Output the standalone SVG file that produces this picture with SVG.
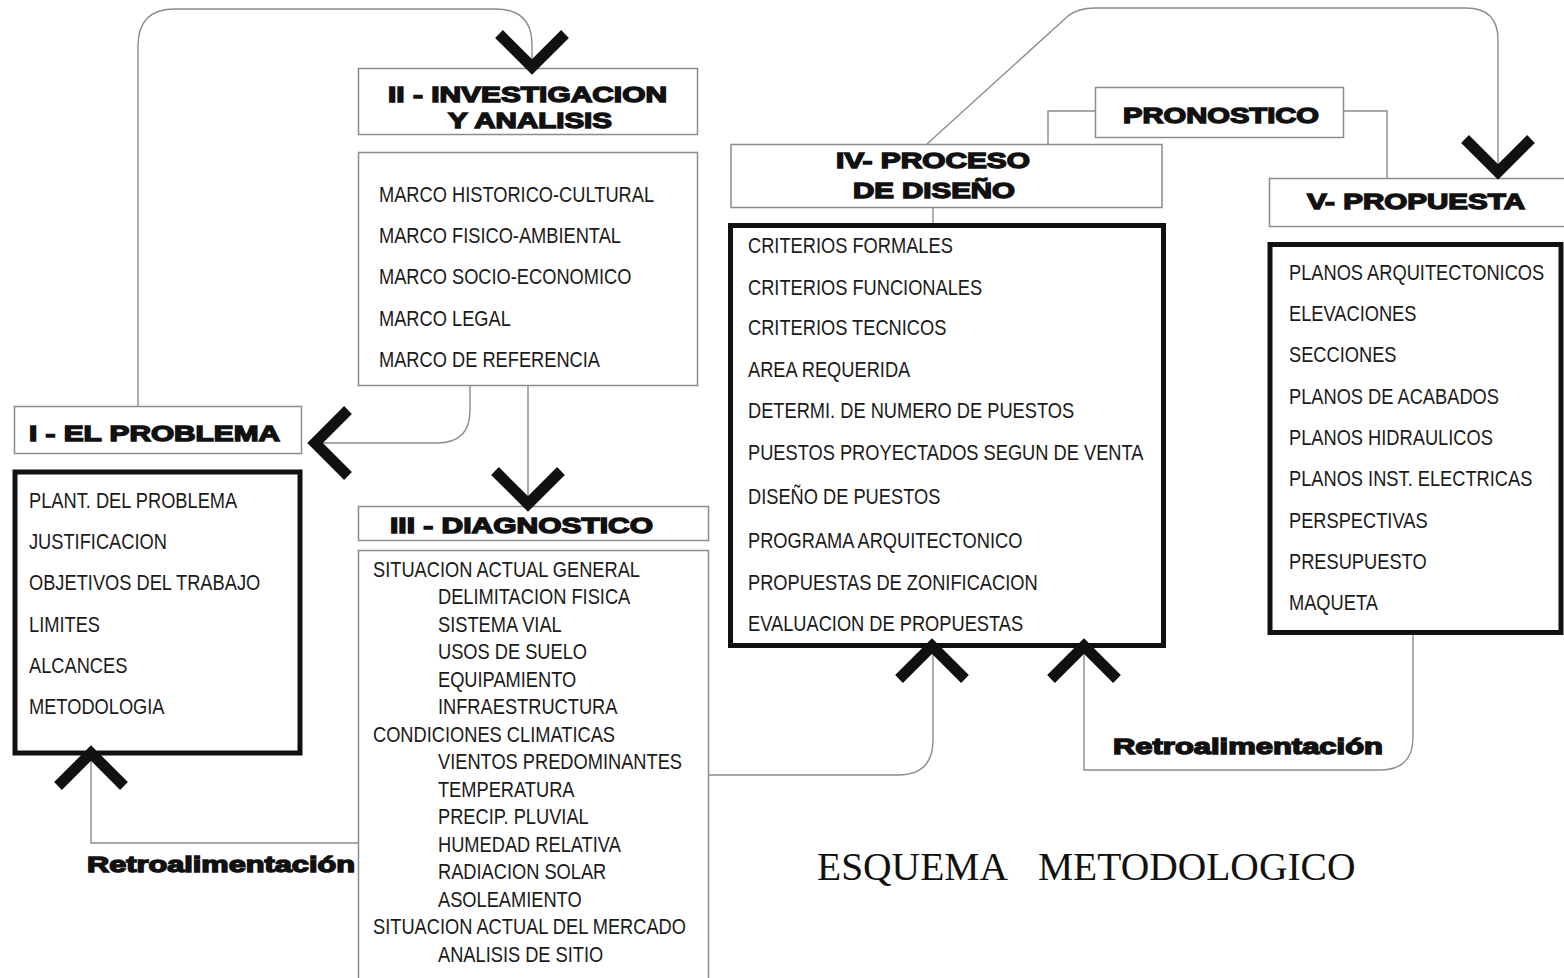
<svg xmlns="http://www.w3.org/2000/svg" width="1564" height="978" viewBox="0 0 1564 978">
<style>
.bg{fill:#fff}
.box{fill:#fff;stroke:#8c8c8c;stroke-width:1.5}
.thick{fill:#fff;stroke:#111;stroke-width:5}
.line{fill:none;stroke:#8c8c8c;stroke-width:1.4}
.chev{fill:none;stroke:#111;stroke-width:11;stroke-linejoin:miter;stroke-miterlimit:10}
.hd{font-family:"Liberation Sans",Arial,sans-serif;font-weight:bold;font-size:22px;fill:#111;stroke:#111;stroke-width:1.4}
.it{font-family:"Liberation Sans",Arial,sans-serif;font-size:22px;fill:#1a1a1a}
.ttl{font-family:"Liberation Serif","Times New Roman",serif;font-size:39.5px;fill:#111}
</style>
<defs>
<path id="chv" class="chev" d="M-33,-33 L0,0 L33,-33"/>
</defs>
<rect class="bg" x="0" y="0" width="1564" height="978"/>

<g id="connectors">
<path class="line" d="M138,406 V46 Q138,9 175,9 H496 Q532,9 532,45 V70"/>
<path class="line" d="M470,385 V410 Q470,443 437,443 H312"/>
<path class="line" d="M528,385 V505"/>
<path class="line" d="M91,752 V843 H358"/>
<path class="line" d="M708,775 H898 Q933,775 933,740 V645"/>
<path class="line" d="M1413,633 V737 Q1413,770 1380,770 H1084 V645"/>
<path class="line" d="M927,144 L1068,16 Q1078,8 1095,8 H1466 Q1498,8 1498,40 V172"/>
<path class="line" d="M933,208 V226"/>
<path class="line" d="M1095,111 H1048 V144"/>
<path class="line" d="M1343,111 H1387 V178"/>
</g>

<g id="node-II">
<rect class="box" x="358.5" y="68.5" width="339" height="66"/>
<text class="hd" x="388" y="102" textLength="279" lengthAdjust="spacingAndGlyphs">II - INVESTIGACION</text>
<text class="hd" x="448" y="128" textLength="164" lengthAdjust="spacingAndGlyphs">Y ANALISIS</text>
</g>
<g id="node-II-content">
<rect class="box" x="358.5" y="152.5" width="339" height="233"/>
<g transform="translate(379,0) scale(0.83,1)">
<text class="it" x="0" y="202">MARCO HISTORICO-CULTURAL</text>
<text class="it" x="0" y="243">MARCO FISICO-AMBIENTAL</text>
<text class="it" x="0" y="284">MARCO SOCIO-ECONOMICO</text>
<text class="it" x="0" y="326">MARCO LEGAL</text>
<text class="it" x="0" y="367">MARCO DE REFERENCIA</text>
</g>
</g>

<g id="node-I">
<rect class="box" x="14.5" y="406.5" width="287" height="47"/>
<text class="hd" x="29" y="441" textLength="251" lengthAdjust="spacingAndGlyphs">I - EL PROBLEMA</text>
</g>
<g id="node-I-content">
<rect class="thick" x="15" y="472" width="285" height="281"/>
<g transform="translate(29,0) scale(0.83,1)">
<text class="it" x="0" y="508">PLANT. DEL PROBLEMA</text>
<text class="it" x="0" y="549">JUSTIFICACION</text>
<text class="it" x="0" y="590">OBJETIVOS DEL TRABAJO</text>
<text class="it" x="0" y="632">LIMITES</text>
<text class="it" x="0" y="673">ALCANCES</text>
<text class="it" x="0" y="714">METODOLOGIA</text>
</g>
</g>

<g id="node-III">
<rect class="box" x="358.5" y="506.5" width="350" height="34"/>
<text class="hd" x="390" y="533" textLength="263" lengthAdjust="spacingAndGlyphs">III - DIAGNOSTICO</text>
</g>
<g id="node-III-content">
<rect class="box" x="358.5" y="550.5" width="350" height="440"/>
<g transform="translate(373,0) scale(0.83,1)">
<text class="it" x="0" y="577">SITUACION ACTUAL GENERAL</text>
<text class="it" x="78.3" y="604.5">DELIMITACION FISICA</text>
<text class="it" x="78.3" y="632">SISTEMA VIAL</text>
<text class="it" x="78.3" y="659.5">USOS DE SUELO</text>
<text class="it" x="78.3" y="687">EQUIPAMIENTO</text>
<text class="it" x="78.3" y="714.5">INFRAESTRUCTURA</text>
<text class="it" x="0" y="742">CONDICIONES CLIMATICAS</text>
<text class="it" x="78.3" y="769.5">VIENTOS PREDOMINANTES</text>
<text class="it" x="78.3" y="797">TEMPERATURA</text>
<text class="it" x="78.3" y="824.5">PRECIP. PLUVIAL</text>
<text class="it" x="78.3" y="852">HUMEDAD RELATIVA</text>
<text class="it" x="78.3" y="879.5">RADIACION SOLAR</text>
<text class="it" x="78.3" y="907">ASOLEAMIENTO</text>
<text class="it" x="0" y="934.5">SITUACION ACTUAL DEL MERCADO</text>
<text class="it" x="78.3" y="962">ANALISIS DE SITIO</text>
</g>
</g>

<g id="node-IV">
<rect class="box" x="731" y="144.5" width="431" height="63"/>
<text class="hd" x="836" y="168" textLength="194" lengthAdjust="spacingAndGlyphs">IV- PROCESO</text>
<text class="hd" x="853" y="198" textLength="162" lengthAdjust="spacingAndGlyphs">DE DISEÑO</text>
</g>
<g id="node-IV-content">
<rect class="thick" x="730.5" y="225.5" width="433" height="420"/>
<g transform="translate(748,0) scale(0.83,1)">
<text class="it" x="0" y="253">CRITERIOS FORMALES</text>
<text class="it" x="0" y="295">CRITERIOS FUNCIONALES</text>
<text class="it" x="0" y="335">CRITERIOS TECNICOS</text>
<text class="it" x="0" y="377">AREA REQUERIDA</text>
<text class="it" x="0" y="418">DETERMI. DE NUMERO DE PUESTOS</text>
<text class="it" x="0" y="460">PUESTOS PROYECTADOS SEGUN DE VENTA</text>
<text class="it" x="0" y="504">DISEÑO DE PUESTOS</text>
<text class="it" x="0" y="548">PROGRAMA ARQUITECTONICO</text>
<text class="it" x="0" y="590">PROPUESTAS DE ZONIFICACION</text>
<text class="it" x="0" y="631">EVALUACION DE PROPUESTAS</text>
</g>
</g>

<g id="node-pronostico">
<rect class="box" x="1095.5" y="87.5" width="248" height="50"/>
<text class="hd" x="1123" y="123" textLength="196" lengthAdjust="spacingAndGlyphs">PRONOSTICO</text>
</g>

<g id="node-V">
<rect class="box" x="1269.5" y="178.5" width="300" height="48"/>
<text class="hd" x="1307" y="209" textLength="218" lengthAdjust="spacingAndGlyphs">V- PROPUESTA</text>
</g>
<g id="node-V-content">
<rect class="thick" x="1270" y="244.5" width="291" height="388"/>
<g transform="translate(1289,0) scale(0.83,1)">
<text class="it" x="0" y="280">PLANOS ARQUITECTONICOS</text>
<text class="it" x="0" y="321">ELEVACIONES</text>
<text class="it" x="0" y="362">SECCIONES</text>
<text class="it" x="0" y="404">PLANOS DE ACABADOS</text>
<text class="it" x="0" y="445">PLANOS HIDRAULICOS</text>
<text class="it" x="0" y="486">PLANOS INST. ELECTRICAS</text>
<text class="it" x="0" y="528">PERSPECTIVAS</text>
<text class="it" x="0" y="569">PRESUPUESTO</text>
<text class="it" x="0" y="610">MAQUETA</text>
</g>
</g>

<g id="arrowheads">
<use href="#chv" transform="translate(532,67)"/>
<use href="#chv" transform="translate(528,504)"/>
<use href="#chv" transform="translate(1498,172)"/>
<use href="#chv" transform="translate(315,443) rotate(90)"/>
<use href="#chv" transform="translate(91,753) rotate(180)"/>
<use href="#chv" transform="translate(932,646) rotate(180)"/>
<use href="#chv" transform="translate(1084,646) rotate(180)"/>
</g>

<g id="labels">
<text class="hd" x="87" y="872" textLength="268" lengthAdjust="spacingAndGlyphs">Retroalimentación</text>
<text class="hd" x="1113" y="754" textLength="270" lengthAdjust="spacingAndGlyphs">Retroalimentación</text>
<text class="ttl" x="817" y="880">ESQUEMA</text>
<text class="ttl" x="1038" y="880">METODOLOGICO</text>
</g>
</svg>
